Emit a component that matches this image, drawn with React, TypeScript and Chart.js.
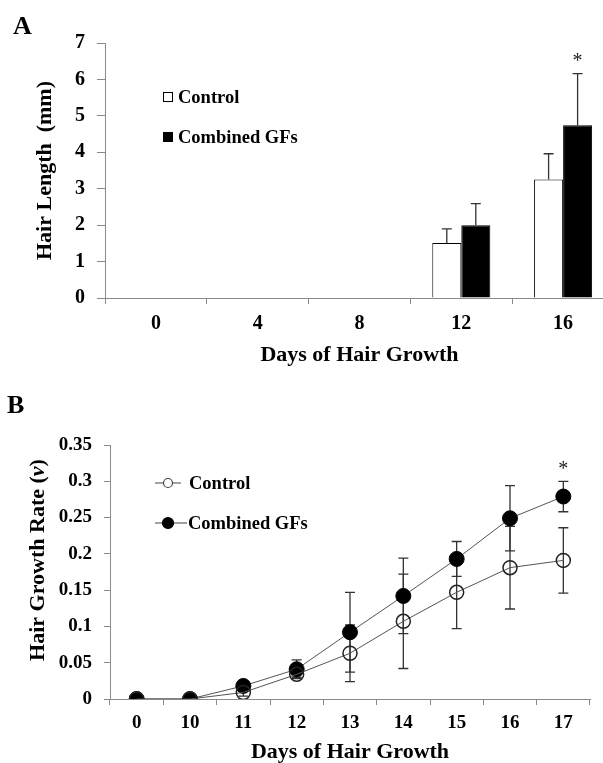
import React, { useEffect, useRef } from 'react';
import { Chart, registerables } from 'chart.js';

Chart.register(...registerables);

const SERIF = '"Liberation Serif", "Times New Roman", Times, serif';
const AXIS = '#8a8a8a';
const INK = '#000';
const ERR = '#333';

// ---------- Panel A data ----------
const daysA = ['0', '4', '8', '12', '16'];
const controlLengthA = [0, 0, 0, 1.51, 3.25];
const combinedLengthA = [0, 0, 0, 2.0, 4.74];
const controlErrA = [0, 0, 0, 0.39, 0.71];
const combinedErrA = [0, 0, 0, 0.59, 1.42];
const sigA = ['', '', '', '', '*'];
const yTicksA = [0, 1, 2, 3, 4, 5, 6, 7];
const yTickLabelsA = ['0', '1', '2', '3', '4', '5', '6', '7'];

// ---------- Panel B data ----------
const daysB = ['0', '10', '11', '12', '13', '14', '15', '16', '17'];
const controlRateB = [0, 0, 0.009, 0.034, 0.063, 0.107, 0.147, 0.181, 0.191];
const combinedRateB = [0, 0, 0.018, 0.041, 0.092, 0.142, 0.193, 0.249, 0.279];
const controlErrB = [0, 0, 0.005, 0.004, 0.039, 0.065, 0.05, 0.057, 0.045];
const combinedErrB = [0, 0, 0.004, 0.013, 0.055, 0.052, 0.024, 0.045, 0.021];
const sigB = ['', '', '', '', '', '', '', '', '*'];
const yTicksB = [0, 0.05, 0.1, 0.15, 0.2, 0.25, 0.3, 0.35];
const yTickLabelsB = ['0', '0.05', '0.1', '0.15', '0.2', '0.25', '0.3', '0.35'];

const seriesNames = ['Control', 'Combined GFs'];

function drawErrorBars(chart: any, errs: number[][], twoSided: boolean, capHalf: number) {
  const ctx = chart.ctx;
  const y = chart.scales.y;
  ctx.save();
  ctx.strokeStyle = ERR;
  ctx.lineWidth = 1.3;
  chart.data.datasets.forEach((ds: any, di: number) => {
    const meta = chart.getDatasetMeta(di);
    ds.data.forEach((v: number, i: number) => {
      const e = errs[di][i];
      if (!e) return;
      const x = meta.data[i].x;
      const yTop = y.getPixelForValue(v + e);
      const yBot = twoSided ? y.getPixelForValue(v - e) : y.getPixelForValue(v);
      ctx.beginPath();
      ctx.moveTo(x, yTop);
      ctx.lineTo(x, yBot);
      ctx.moveTo(x - capHalf, yTop);
      ctx.lineTo(x + capHalf, yTop);
      if (twoSided) {
        ctx.moveTo(x - capHalf, yBot);
        ctx.lineTo(x + capHalf, yBot);
      }
      ctx.stroke();
    });
  });
  ctx.restore();
}

function drawStars(chart: any, di: number, values: number[], errs: number[], sig: string[], gap: number) {
  const ctx = chart.ctx;
  const y = chart.scales.y;
  const meta = chart.getDatasetMeta(di);
  ctx.save();
  ctx.fillStyle = '#222';
  ctx.font = `20px ${SERIF}`;
  ctx.textAlign = 'center';
  ctx.textBaseline = 'alphabetic';
  sig.forEach((s, i) => {
    if (!s) return;
    const x = meta.data[i].x;
    const yy = y.getPixelForValue(values[i] + errs[i]) - gap;
    ctx.fillText(s, x, yy);
  });
  ctx.restore();
}

function drawPanelLabel(chart: any, text: string, x: number, y: number) {
  const ctx = chart.ctx;
  ctx.save();
  ctx.fillStyle = INK;
  ctx.font = `bold 26px ${SERIF}`;
  ctx.textAlign = 'left';
  ctx.textBaseline = 'alphabetic';
  ctx.fillText(text, x, y);
  ctx.restore();
}

function BarPanel() {
  const ref = useRef<HTMLCanvasElement>(null);
  useEffect(() => {
    if (!ref.current) return;
    const panelPlugin = {
      id: 'panelA',
      afterDatasetsDraw(chart: any) {
        drawErrorBars(chart, [controlErrA, combinedErrA], false, 5);
        drawStars(chart, 1, combinedLengthA, combinedErrA, sigA, 7);
      },
      afterDraw(chart: any) {
        const ctx = chart.ctx;
        drawPanelLabel(chart, 'A', 13, 34);
        ctx.save();
        ctx.font = `bold 18.5px ${SERIF}`;
        ctx.textBaseline = 'middle';
        ctx.textAlign = 'left';
        const rows = [
          { y: 97, fill: '#fff' },
          { y: 137, fill: '#000' },
        ];
        rows.forEach((r, i) => {
          ctx.fillStyle = r.fill;
          ctx.fillRect(163, r.y - 5, 10, 10);
          ctx.strokeStyle = '#000';
          ctx.lineWidth = 1;
          ctx.strokeRect(163.5, r.y - 4.5, 9, 9);
          ctx.fillStyle = INK;
          ctx.fillText(seriesNames[i], 178, r.y + 1);
        });
        ctx.restore();
      },
    };
    const chart = new Chart(ref.current, {
      type: 'bar',
      data: {
        labels: daysA,
        datasets: [
          {
            label: seriesNames[0],
            data: controlLengthA,
            backgroundColor: '#fff',
            borderColor: '#000',
            borderWidth: (c: any) => (c.raw > 0 ? 1 : 0),
            categoryPercentage: 0.57,
            barPercentage: 1,
          },
          {
            label: seriesNames[1],
            data: combinedLengthA,
            backgroundColor: '#000',
            borderColor: '#000',
            borderWidth: (c: any) => (c.raw > 0 ? 1 : 0),
            categoryPercentage: 0.57,
            barPercentage: 1,
          },
        ],
      },
      options: {
        animation: false,
        responsive: false,
        maintainAspectRatio: false,
        devicePixelRatio: 1,
        layout: { padding: { top: 43, left: 0, right: 0, bottom: 0 } },
        plugins: { legend: { display: false }, tooltip: { enabled: false } },
        scales: {
          x: {
            offset: true,
            grid: { display: true, drawOnChartArea: false, drawTicks: true, tickLength: 6, color: AXIS, offset: true },
            border: { display: true, color: AXIS, width: 1 },
            ticks: { color: INK, font: { family: SERIF, size: 20, weight: 'bold' }, padding: 8, maxRotation: 0, autoSkip: false },
            title: {
              display: true,
              text: 'Days of Hair Growth',
              color: INK,
              font: { family: SERIF, size: 22, weight: 'bold', lineHeight: 1.2 },
              padding: { top: 0, bottom: 6 },
            },
            afterFit: (s: any) => { s.height = 77; },
          },
          y: {
            min: 0,
            max: 7,
            afterBuildTicks: (s: any) => { s.ticks = yTicksA.map((v) => ({ value: v })); },
            ticks: {
              color: INK,
              font: { family: SERIF, size: 20, weight: 'bold' },
              padding: 12,
              callback: (_v: any, i: number) => yTickLabelsA[i],
            },
            grid: { display: true, drawOnChartArea: false, drawTicks: true, tickLength: 8, color: AXIS },
            border: { display: true, color: AXIS, width: 1 },
            title: {
              display: true,
              text: 'Hair Length  (mm)',
              color: INK,
              font: { family: SERIF, size: 22, weight: 'bold', lineHeight: 1.2 },
              padding: { top: 32, bottom: 0 },
            },
            afterFit: (s: any) => { s.width = 105; },
          },
        },
      } as any,
      plugins: [panelPlugin],
    } as any);
    return () => chart.destroy();
  }, []);
  return (
    <canvas
      ref={ref}
      width={614}
      height={375}
      style={{ position: 'absolute', left: 0, top: 0, width: 614, height: 375 }}
    />
  );
}

function LinePanel() {
  const ref = useRef<HTMLCanvasElement>(null);
  useEffect(() => {
    if (!ref.current) return;
    const panelPlugin = {
      id: 'panelB',
      beforeDatasetsDraw(chart: any) {
        drawErrorBars(chart, [controlErrB, combinedErrB], true, 5);
      },
      afterDatasetsDraw(chart: any) {
        drawStars(chart, 1, combinedRateB, combinedErrB, sigB, 6);
      },
      afterDraw(chart: any) {
        const ctx = chart.ctx;
        drawPanelLabel(chart, 'B', 7, 38);
        // y-axis title with italic v
        ctx.save();
        const fb = `bold 22px ${SERIF}`;
        const fi = `italic bold 22px ${SERIF}`;
        const parts = [
          { t: 'Hair Growth Rate (', f: fb },
          { t: 'v', f: fi },
          { t: ')', f: fb },
        ];
        let total = 0;
        parts.forEach((p) => { ctx.font = p.f; total += ctx.measureText(p.t).width; });
        ctx.translate(38, 185);
        ctx.rotate(-Math.PI / 2);
        ctx.fillStyle = INK;
        ctx.textBaseline = 'middle';
        ctx.textAlign = 'left';
        let x = -total / 2;
        parts.forEach((p) => {
          ctx.font = p.f;
          ctx.fillText(p.t, x, 0);
          x += ctx.measureText(p.t).width;
        });
        ctx.restore();

        // legend
        ctx.save();
        ctx.font = `bold 18.5px ${SERIF}`;
        ctx.textBaseline = 'middle';
        ctx.textAlign = 'left';
        const rows = [
          { y: 108, r: 4.5, fill: '#fff', tx: 189 },
          { y: 148, r: 5.5, fill: '#000', tx: 188 },
        ];
        rows.forEach((row, i) => {
          ctx.strokeStyle = '#444';
          ctx.lineWidth = 1;
          ctx.beginPath();
          ctx.moveTo(155, row.y);
          ctx.lineTo(i === 0 ? 181 : 187, row.y);
          ctx.stroke();
          ctx.beginPath();
          ctx.arc(168, row.y, row.r, 0, Math.PI * 2);
          ctx.fillStyle = row.fill;
          ctx.fill();
          ctx.strokeStyle = i === 0 ? '#444' : '#000';
          ctx.lineWidth = 1.2;
          ctx.stroke();
          ctx.fillStyle = INK;
          ctx.fillText(seriesNames[i], row.tx, row.y + 1);
        });
        ctx.restore();
      },
    };
    const chart = new Chart(ref.current, {
      type: 'line',
      data: {
        labels: daysB,
        datasets: [
          {
            label: seriesNames[0],
            data: controlRateB,
            borderColor: '#555',
            borderWidth: 1,
            pointRadius: 7,
            pointBorderColor: '#222',
            pointBackgroundColor: 'rgba(255,255,255,0)',
            pointBorderWidth: 1.5,
            tension: 0,
            fill: false,
          },
          {
            label: seriesNames[1],
            data: combinedRateB,
            borderColor: '#555',
            borderWidth: 1,
            pointRadius: 7.5,
            pointBorderColor: '#000',
            pointBackgroundColor: '#000',
            pointBorderWidth: 1,
            tension: 0,
            fill: false,
          },
        ],
      },
      options: {
        animation: false,
        responsive: false,
        maintainAspectRatio: false,
        devicePixelRatio: 1,
        layout: { padding: { top: 70, left: 0, right: 13, bottom: 0 } },
        plugins: { legend: { display: false }, tooltip: { enabled: false } },
        scales: {
          x: {
            offset: true,
            grid: { display: true, drawOnChartArea: false, drawTicks: true, tickLength: 6, color: AXIS, offset: true },
            border: { display: true, color: AXIS, width: 1 },
            ticks: { color: INK, font: { family: SERIF, size: 19, weight: 'bold' }, padding: 7, maxRotation: 0, autoSkip: false },
            title: {
              display: true,
              text: 'Days of Hair Growth',
              color: INK,
              font: { family: SERIF, size: 22, weight: 'bold', lineHeight: 1.0 },
              padding: { top: 0, bottom: 0 },
            },
            afterFit: (s: any) => { s.height = 64; },
          },
          y: {
            min: 0,
            max: 0.35,
            afterBuildTicks: (s: any) => { s.ticks = yTicksB.map((v) => ({ value: v })); },
            ticks: {
              color: INK,
              font: { family: SERIF, size: 19, weight: 'bold' },
              padding: 12,
              callback: (_v: any, i: number) => yTickLabelsB[i],
            },
            grid: { display: true, drawOnChartArea: false, drawTicks: true, tickLength: 6, color: AXIS },
            border: { display: true, color: AXIS, width: 1 },
            title: { display: false },
            afterFit: (s: any) => { s.width = 110; },
          },
        },
      } as any,
      plugins: [panelPlugin],
    } as any);
    return () => chart.destroy();
  }, []);
  return (
    <canvas
      ref={ref}
      width={603}
      height={388}
      style={{ position: 'absolute', left: 0, top: 375, width: 603, height: 388 }}
    />
  );
}

export default function App() {
  return (
    <div
      style={{
        position: 'fixed',
        left: 0,
        top: 0,
        width: 603,
        height: 763,
        overflow: 'hidden',
        background: '#fff',
      }}
    >
      <BarPanel />
      <LinePanel />
    </div>
  );
}
